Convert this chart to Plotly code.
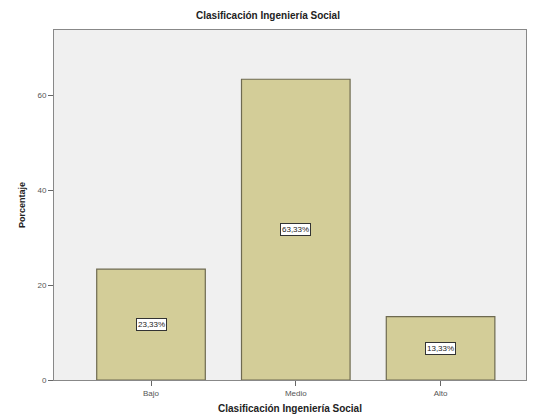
import plotly.graph_objects as go

categorias = ["Bajo", "Medio", "Alto"]
porcentajes = [23.33, 63.33, 13.33]
etiquetas = ["23,33%", "63,33%", "13,33%"]
y_ticks = [0, 20, 40, 60]

fig = go.Figure()
fig.add_trace(go.Bar(
    x=categorias,
    y=porcentajes,
    width=0.75,
    marker=dict(color="#d3cd98", line=dict(color="#6e6a50", width=1.2)),
    hoverinfo="skip",
))

for cat, val, txt in zip(categorias, porcentajes, etiquetas):
    fig.add_annotation(
        x=cat, y=val / 2, text=txt, showarrow=False,
        font=dict(family="Liberation Sans", size=8, color="#222"),
        bgcolor="white", bordercolor="#333", borderwidth=1, borderpad=1,
    )

fig.update_layout(
    width=536, height=420,
    margin=dict(l=54, r=10, t=30, b=40),
    paper_bgcolor="white",
    plot_bgcolor="#f0f0f0",
    showlegend=False,
    title=dict(text="<b>Clasificación Ingeniería Social</b>", x=0.5, xanchor="center",
               y=1 - 15 / 420, yanchor="middle",
               font=dict(family="Liberation Sans", size=10, color="#222")),
    font=dict(family="Liberation Sans", size=8, color="#555"),
)
fig.update_xaxes(
    range=[-0.67, 2.59],
    automargin=False,
    showline=True, linecolor="#888", linewidth=1, mirror=True,
    ticks="outside", ticklen=5, tickcolor="#666",
    title=dict(text="<b>Clasificación Ingeniería Social</b>", standoff=8,
               font=dict(family="Liberation Sans", size=10, color="#222")),
    showgrid=False,
)
fig.update_yaxes(
    range=[0, 73.7],
    automargin=False,
    tickvals=y_ticks,
    showline=True, linecolor="#888", linewidth=1, mirror=True,
    ticks="outside", ticklen=5, tickcolor="#666",
    title=dict(text="<b>Porcentaje</b>", standoff=10,
               font=dict(family="Liberation Sans", size=9, color="#222")),
    showgrid=False, zeroline=False,
)

fig.write_html("out.html")
